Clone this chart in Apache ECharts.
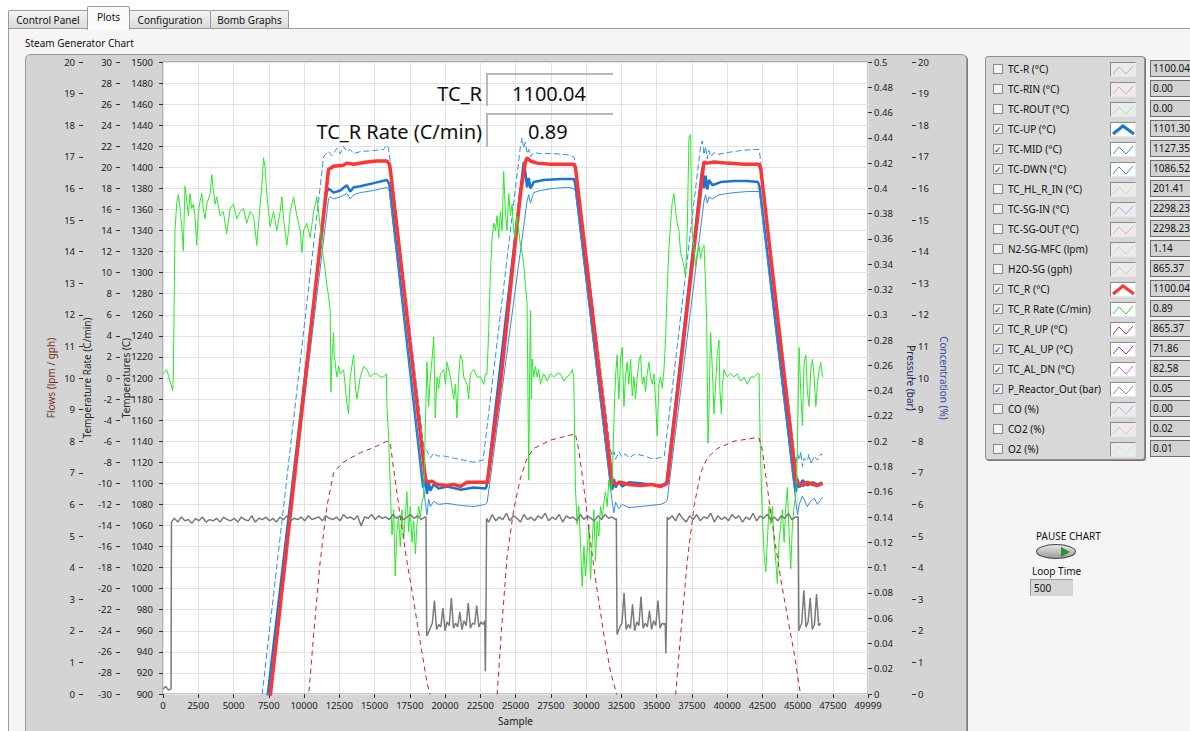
<!DOCTYPE html>
<html><head><meta charset="utf-8">
<script src="https://cdn.jsdelivr.net/npm/echarts@6/dist/echarts.min.js"></script>
<style>
html,body{margin:0;padding:0;width:1190px;height:731px;overflow:hidden;background:#ffffff;font-family:"Noto Sans","Open Sans",sans-serif;color:#111;}
.tab{position:absolute;top:10px;height:19px;border:1px solid #9c9c9c;border-bottom:none;background:linear-gradient(#f4f4f4,#d9d9d9);font-size:10px;line-height:18px;text-align:center;box-sizing:border-box;border-radius:2px 2px 0 0;}
.tab.sel{top:6px;height:24px;background:#fafafa;z-index:3;line-height:20px;}
#page{position:absolute;left:8px;top:28px;width:1182px;height:703px;background:#f5f5f5;border-top:1px solid #9c9c9c;border-left:1px solid #9c9c9c;box-sizing:border-box;}
#frame{position:absolute;left:25px;top:54px;width:942px;height:700px;background:#d4d4d4;border:1px solid #9a9a9a;border-radius:5px;box-sizing:border-box;box-shadow:1px 1px 0 #7a7a7a;}
#chart{position:absolute;left:0;top:0;width:1190px;height:731px;z-index:2;}
#title{position:absolute;left:25px;top:36px;font-size:10px;}
.ovl{position:absolute;z-index:4;font-size:20px;color:#111;white-space:nowrap;}
.ovbox{position:absolute;z-index:4;border-top:2px solid #b8b8b8;border-left:2px solid #b8b8b8;box-sizing:border-box;}
#legend{position:absolute;left:985px;top:56px;width:160px;height:404px;background:#d8d8d8;border:1px solid #8e8e8e;border-radius:3px;box-sizing:border-box;box-shadow:1px 1px 0 #777;z-index:4;}
.row{position:absolute;left:0;height:16px;width:160px;}
.cb{position:absolute;left:7px;top:3px;width:10px;height:10px;background:#f3f3f3;border:1px solid #8a8a8a;box-sizing:border-box;font-size:9px;line-height:9px;text-align:center;color:#24318a;}
.lbl{position:absolute;left:22px;top:0;font-size:10px;line-height:16px;white-space:nowrap;}
.ico{position:absolute;left:124px;top:1px;width:26px;height:15px;border:1px solid #8a8a8a;border-right-color:#e8e8e8;border-bottom-color:#e8e8e8;box-sizing:border-box;background:#ebebeb;}
.val{position:absolute;left:1150px;width:46px;height:17px;background:#d2d2d2;border:1px solid #6d6d6d;border-right:none;box-sizing:border-box;font-size:10px;line-height:15px;padding-left:2px;z-index:4;overflow:hidden;white-space:nowrap;}
</style></head>
<body>
<div class="tab" style="left:8px;width:80px;">Control Panel</div>
<div class="tab sel" style="left:87px;width:43px;">Plots</div>
<div class="tab" style="left:129px;width:82px;">Configuration</div>
<div class="tab" style="left:210px;width:79px;">Bomb Graphs</div>
<div id="page"></div>
<div id="title">Steam Generator Chart</div>
<div id="frame"></div>
<div id="chart"></div>
<div class="ovbox" style="left:486px;top:73px;width:127px;height:33px;"></div>
<div class="ovbox" style="left:486px;top:113px;width:127px;height:34px;"></div>
<div class="ovl" style="right:708px;top:80px;">TC_R</div>
<div class="ovl" style="left:512px;top:80px;">1100.04</div>
<div class="ovl" style="right:708px;top:118px;">TC_R Rate (C/min)</div>
<div class="ovl" style="left:528px;top:118px;">0.89</div>
<div id="legend"></div>
<div id="vals"></div>
<div style="position:absolute;left:1036px;top:529px;font-size:10px;z-index:4;">PAUSE CHART</div>
<div style="position:absolute;left:1036px;top:544px;width:40px;height:15px;border-radius:50%;background:linear-gradient(#e8e8e8,#9a9a9a);border:1px solid #444;box-sizing:border-box;z-index:4;">
  <div style="position:absolute;left:24px;top:2px;width:0;height:0;border-top:5px solid transparent;border-bottom:5px solid transparent;border-left:9px solid #2f8f2f;"></div>
</div>
<div style="position:absolute;left:1032px;top:564px;font-size:10px;z-index:4;">Loop Time</div>
<div style="position:absolute;left:1030px;top:579px;width:43px;height:17px;background:#d6d6d6;border-left:1px solid #999;border-top:1px solid #999;box-sizing:border-box;font-size:10px;line-height:16px;padding-left:3px;z-index:4;">500</div>
<script>
// ---------- legend panel data ----------
const legendNames = ['TC-R (°C)','TC-RIN (°C)','TC-ROUT (°C)','TC-UP (°C)','TC-MID (°C)','TC-DWN (°C)','TC_HL_R_IN (°C)','TC-SG-IN (°C)','TC-SG-OUT (°C)','N2-SG-MFC (lpm)','H2O-SG (gph)','TC_R (°C)','TC_R Rate (C/min)','TC_R_UP (°C)','TC_AL_UP (°C)','TC_AL_DN (°C)','P_Reactor_Out (bar)','CO (%)','CO2 (%)','O2 (%)'];
const legendChecked = [0,0,0,1,1,1,0,0,0,0,0,1,1,1,1,1,1,0,0,0];
const legendValues = ['1100.04','0.00','0.00','1101.30','1127.35','1086.52','201.41','2298.23','2298.23','1.14','865.37','1100.04','0.89','865.37','71.86','82.58','0.05','0.00','0.02','0.01'];
const legendColors = ['#9fb6cf','#efa5ad','#a6e3a6','#1a74d4','#2f8fe8','#2f8fe8','#efcb98','#b7abe8','#efa6c9','#ace6df','#c9c9c9','#ff3434','#28e028','#cc2a2a','#a020f0','#cf5ff0','#8a8a8a','#b6b6f0','#f0b3d2','#b3eeee'];
const legendThick = [0,0,0,1,0,0,0,0,0,0,0,1,0,0,0,0,0,0,0,0];

// ---------- chart series data: [sample, value] ----------
const tcR = [[7000,825],[7600,897],[11740,1398],[12100,1401],[12800,1402],[13040,1404],[13520,1403],[14460,1405],[15170,1406],[15880,1406],[16050,1403],[16120,1398],[18600,1106],[18720,1101],[19080,1102],[19430,1099],[20140,1098],[20620,1099],[21090,1097],[21560,1101],[22270,1101],[22870,1101],[23000,1100],[23930,1194],[25350,1375],[25700,1405],[25820,1409],[26060,1406],[26530,1404],[27480,1403],[28420,1403],[29130,1403],[29250,1400],[31860,1101],[32090,1099],[32450,1101],[33040,1099],[33870,1098],[34580,1099],[35290,1097],[35640,1099],[35760,1100],[38360,1405],[38600,1404],[39080,1405],[40020,1404],[41200,1403],[42270,1403],[42400,1398],[44880,1105],[45000,1100],[45350,1098],[45700,1101],[46060,1099],[46420,1098],[46770,1100]];

const tcUp = [[6900,840],[7410,897],[11600,1376],[11740,1380],[12100,1376],[12570,1378],[13040,1383],[13280,1377],[13520,1381],[13990,1382],[14940,1385],[15880,1388],[16050,1384],[18450,1096],[18600,1105],[18720,1090],[18840,1102],[18960,1093],[19200,1099],[19550,1095],[20140,1097],[21090,1094],[22040,1096],[22870,1095],[22950,1097],[25580,1405],[25700,1395],[25820,1381],[25940,1390],[26060,1380],[26290,1386],[27000,1388],[28200,1389],[29130,1389],[29230,1385],[31740,1102],[31860,1094],[31980,1104],[32100,1096],[32330,1102],[32570,1097],[33040,1101],[33870,1100],[34580,1099],[35290,1098],[35640,1100],[35720,1102],[38250,1400],[38370,1380],[38480,1392],[38600,1379],[38720,1388],[38960,1383],[39550,1386],[40500,1387],[41440,1387],[42200,1386],[42300,1382],[44760,1102],[44880,1092],[45000,1104],[45120,1096],[45350,1103],[45700,1098],[46060,1101],[46420,1099],[46770,1101]];

const tcMid = [[6500,840],[7010,897],[11390,1410],[11500,1412],[11740,1415],[11980,1411],[12330,1418],[12570,1413],[12800,1420],[13040,1415],[13280,1417],[13520,1413],[14000,1415],[14940,1416],[15650,1417],[15880,1421],[16000,1418],[18500,1134],[18720,1131],[18960,1124],[19200,1129],[19430,1126],[19900,1126],[20600,1124],[21300,1122],[22000,1120],[22700,1122],[25350,1420],[25470,1428],[25580,1418],[25700,1424],[25820,1413],[25940,1417],[26060,1410],[26290,1414],[26770,1413],[27700,1413],[28660,1412],[29130,1410],[29250,1405],[31740,1131],[31860,1126],[31980,1130],[32100,1123],[32330,1130],[32560,1125],[32800,1128],[33040,1124],[33500,1128],[34100,1126],[34800,1123],[35400,1125],[35560,1126],[38130,1421],[38250,1425],[38370,1412],[38480,1420],[38600,1408],[38720,1416],[38840,1410],[39080,1414],[39300,1412],[40000,1414],[41000,1416],[41900,1417],[42270,1417],[42350,1410],[44760,1131],[44880,1118],[45000,1128],[45120,1122],[45230,1130],[45350,1116],[45470,1124],[45700,1121],[45820,1128],[45940,1118],[46180,1126],[46420,1122],[46660,1128],[46770,1127]];

const tcDwn = [[7000,845],[7480,897],[11740,1370],[11860,1372],[12100,1370],[12570,1372],[13040,1375],[13280,1370],[13520,1374],[14000,1376],[14940,1378],[15880,1381],[16050,1378],[18600,1082],[18720,1070],[18840,1085],[18960,1078],[19200,1083],[19550,1080],[20140,1081],[21090,1079],[22040,1078],[22870,1080],[22990,1082],[25820,1368],[25940,1374],[26060,1366],[26290,1376],[26770,1378],[27700,1380],[28660,1381],[29130,1380],[29250,1377],[31860,1082],[31980,1072],[32100,1082],[32330,1076],[32560,1080],[33040,1077],[33870,1078],[34580,1079],[35290,1080],[35640,1082],[35760,1084],[38370,1368],[38480,1374],[38600,1366],[38720,1372],[38960,1370],[39430,1374],[40500,1376],[41440,1377],[42270,1377],[42350,1372],[44880,1082],[45000,1070],[45120,1080],[45350,1088],[45700,1078],[45940,1083],[46180,1086],[46420,1080],[46770,1087]];

const tcRUp = [[9900,860],[10320,897],[10680,956],[11150,1026],[11620,1078],[12100,1110],[12690,1119],[13040,1122],[13990,1129],[14940,1134],[15880,1140],[16120,1138],[16360,1113],[16830,1068],[17300,1026],[17780,988],[18250,949],[18720,911],[18960,898],[19400,868],[23300,866],[23700,900],[24000,960],[24400,1030],[24870,1075],[25350,1105],[25820,1124],[26290,1133],[27480,1141],[28660,1145],[29250,1147],[29490,1131],[29850,1096],[30320,1044],[30790,998],[31270,956],[31740,921],[32210,898],[32600,868],[35900,866],[36350,898],[36710,956],[37180,1026],[37660,1078],[38130,1110],[38600,1124],[39310,1133],[40500,1140],[41920,1143],[42270,1143],[42510,1131],[42860,1096],[43340,1050],[43810,1009],[44280,974],[44760,939],[45230,898],[45700,866],[46770,865]];

const tcRRate = [[20,0.4],[260,0.8],[500,-0.3],[690,-1.2],[730,0.1],[850,14.0],[970,16.5],[1090,17.4],[1210,16.1],[1330,14.4],[1440,12.1],[1560,18.2],[1680,16.8],[1800,15.4],[1920,17.5],[2040,16.1],[2150,16.5],[2270,15.4],[2390,12.6],[2510,15.8],[2630,16.8],[2750,17.5],[2860,16.1],[2980,15.1],[3100,16.5],[3340,17.5],[3460,19.3],[3570,17.9],[3690,16.5],[3810,17.2],[4050,15.4],[4280,15.8],[4520,13.7],[4760,16.1],[5000,16.5],[5230,15.1],[5470,15.8],[5700,16.1],[5940,14.7],[6180,15.8],[6420,15.4],[6650,12.6],[6890,16.5],[7010,18.2],[7130,20.9],[7240,20.0],[7360,17.5],[7480,15.8],[7600,14.4],[7840,15.8],[8070,14.0],[8310,15.8],[8430,17.2],[8550,15.1],[8780,12.6],[8900,14.0],[9020,15.8],[9260,17.2],[9490,15.4],[9730,14.0],[9850,11.9],[9970,14.0],[10200,14.7],[10440,13.3],[10680,15.8],[10910,17.2],[11030,15.8],[11150,14.4],[11270,12.6],[11390,11.3],[11500,10.2],[11620,8.8],[11740,7.8],[11860,6.4],[11910,-1.3],[11980,1.8],[12100,4.3],[12140,2.2],[12330,0.1],[12450,1.1],[12570,0.4],[12810,0.8],[13040,-2.4],[13160,-3.4],[13280,0.1],[13520,2.2],[13630,-0.6],[13750,-2.0],[13870,-1.0],[13990,0.1],[14230,1.1],[14460,0.8],[14700,0.1],[14940,0.4],[15170,0.4],[15410,0.1],[15650,0.1],[15840,0.4],[15880,-2.7],[16000,-5.5],[16120,-10.4],[16240,-14.9],[16360,-12.5],[16470,-18.8],[16590,-14.6],[16710,-13.2],[16830,-16.0],[16950,-12.5],[17070,-15.3],[17300,-10.8],[17420,-14.6],[17540,-12.2],[17660,-15.6],[17780,-13.6],[17900,-16.7],[18010,-13.9],[18130,-12.2],[18250,-13.2],[18370,-11.8],[18490,-11.1],[18600,-4.8],[18720,1.5],[18840,-2.7],[18960,0.1],[19080,1.8],[19200,3.9],[19310,-3.8],[19430,0.1],[19550,-1.0],[19670,0.4],[19910,0.8],[20030,-0.6],[20140,1.5],[20380,0.1],[20620,-2.0],[20740,-0.6],[20850,-3.8],[20970,0.1],[21090,2.2],[21210,1.8],[21330,0.1],[21560,-0.6],[21680,-2.0],[21800,0.4],[22040,0.8],[22270,0.1],[22510,0.1],[22750,-0.6],[22870,0.4],[22980,0.4],[23100,4.6],[23220,9.9],[23340,13.3],[23460,14.7],[23580,14.0],[23690,15.4],[23810,13.3],[23930,15.8],[24050,14.0],[24160,19.6],[24280,15.8],[24400,14.0],[24520,17.5],[24640,15.4],[24760,16.5],[24870,14.0],[24990,13.3],[25110,15.4],[25230,14.0],[25350,12.6],[25470,11.9],[25580,10.9],[25700,8.8],[25820,7.1],[25870,0.1],[25940,-9.7],[26010,1.8],[26060,6.4],[26130,-2.0],[26180,1.8],[26290,0.1],[26410,1.1],[26530,0.1],[26650,0.8],[26770,-0.6],[27000,0.4],[27240,-0.3],[27480,0.4],[27710,0.1],[27950,0.4],[28190,0.4],[28420,-0.3],[28660,0.1],[28900,0.4],[29020,0.8],[29130,0.1],[29180,-4.1],[29250,-10.4],[29370,-13.9],[29490,-12.2],[29610,-15.6],[29730,-19.8],[29850,-16.0],[29960,-18.8],[30080,-16.7],[30200,-13.9],[30320,-19.1],[30440,-15.6],[30560,-12.5],[30670,-17.4],[30790,-13.6],[30910,-15.0],[31030,-12.2],[31150,-13.2],[31270,-11.8],[31380,-10.8],[31500,-12.2],[31620,-9.7],[31740,-10.8],[31860,-9.7],[31980,-4.1],[32090,0.1],[32210,2.2],[32330,-2.0],[32450,1.8],[32570,2.9],[32690,-2.7],[32800,0.1],[32920,1.5],[33040,-0.6],[33160,1.8],[33280,-1.7],[33400,0.1],[33510,-2.0],[33630,0.1],[33750,1.5],[33870,2.2],[33990,-0.6],[34110,0.1],[34220,-1.3],[34340,0.4],[34460,1.5],[34580,0.1],[34700,-0.6],[34820,0.4],[34930,-2.0],[35050,-5.5],[35170,-0.6],[35290,0.1],[35410,-1.0],[35530,0.8],[35640,3.6],[35760,8.5],[35880,12.3],[36000,14.7],[36120,16.8],[36240,17.5],[36350,15.8],[36470,14.7],[36590,14.0],[36710,11.9],[36830,11.3],[36950,10.6],[37060,9.5],[37180,14.0],[37300,22.8],[37420,23.1],[37470,17.5],[37540,14.0],[37660,12.3],[37770,10.6],[37890,11.9],[38010,12.6],[38130,11.3],[38250,12.3],[38370,12.6],[38480,8.8],[38560,5.3],[38600,0.1],[38650,-6.2],[38720,-3.4],[38790,1.8],[38840,4.3],[38960,0.8],[39080,-3.4],[39190,-0.6],[39310,2.2],[39430,3.6],[39500,-1.3],[39600,-3.4],[39670,-0.6],[39790,0.8],[39900,0.4],[40020,0.1],[40260,0.4],[40500,0.1],[40730,0.4],[40970,-0.3],[41210,0.1],[41440,-0.6],[41680,0.1],[41920,0.1],[42150,0.4],[42270,0.4],[42340,-5.2],[42440,-10.4],[42510,-13.2],[42630,-16.7],[42750,-18.4],[42860,-15.6],[42980,-12.2],[43100,-13.9],[43220,-12.2],[43340,-15.6],[43460,-17.4],[43570,-19.5],[43690,-15.6],[43810,-13.9],[43930,-12.5],[44050,-15.6],[44170,-12.2],[44280,-10.4],[44400,-14.6],[44520,-18.1],[44640,-13.9],[44760,-12.2],[44880,-11.1],[44990,-6.9],[45110,2.9],[45230,-1.3],[45350,-4.5],[45470,1.5],[45590,2.2],[45700,-1.3],[45820,-2.7],[45940,0.8],[46060,1.8],[46180,0.1],[46300,-2.7],[46410,-0.6],[46530,0.8],[46650,1.5],[46770,0.1]];

// P_Reactor_Out (bar): step changes, plus read noisy segments (values read at regular sample spacing)
const pressureSteps = [[0,0.004],[200,0.006],[400,0.003],[570,0.004],[600,0.136],[18650,0.140],[18700,0.046],[22820,0.058],[22860,0.018],[22900,0.056],[22950,0.139],[32150,0.139],[32200,0.047],[35620,0.056],[35660,0.032],[35700,0.055],[35760,0.140],[45050,0.140],[45100,0.050]];
const pressureSegStart = [800, 18800, 23100, 32250, 35850, 45150];
const pressureSegSpacing = [250, 150, 250, 150, 250, 150];
const pressureHigh1 = [0.139,0.136,0.140,0.137,0.138,0.135,0.139,0.137,0.140,0.136,0.138,0.137,0.139,0.136,0.140,0.138,0.137,0.139,0.136,0.140,0.138,0.137,0.141,0.136,0.139,0.138,0.140,0.137,0.139,0.136,0.140,0.138,0.141,0.137,0.139,0.138,0.140,0.137,0.141,0.138,0.139,0.140,0.137,0.141,0.139,0.138,0.140,0.137,0.142,0.139,0.140,0.138,0.141,0.133,0.140,0.139,0.142,0.138,0.141,0.139,0.140,0.138,0.142,0.139,0.141,0.138,0.140,0.142,0.139,0.141,0.138,0.140];
const pressureLow1 = [0.048,0.052,0.056,0.074,0.051,0.055,0.053,0.068,0.050,0.057,0.054,0.076,0.052,0.056,0.053,0.065,0.051,0.058,0.054,0.072,0.052,0.056,0.055,0.070,0.053,0.057,0.055];
const pressureHigh2 = [0.136,0.142,0.137,0.140,0.138,0.143,0.137,0.141,0.139,0.136,0.142,0.138,0.140,0.137,0.141,0.139,0.143,0.137,0.140,0.138,0.142,0.136,0.141,0.139,0.140,0.137,0.142,0.138,0.141,0.139,0.137,0.141,0.138,0.142,0.139,0.140,0.138];
const pressureLow2 = [0.047,0.053,0.056,0.080,0.051,0.055,0.052,0.071,0.050,0.057,0.054,0.077,0.052,0.056,0.053,0.066,0.051,0.058,0.054,0.074,0.052,0.056,0.055];
const pressureHigh3 = [0.138,0.141,0.137,0.143,0.139,0.136,0.141,0.138,0.142,0.137,0.140,0.139,0.143,0.136,0.141,0.138,0.140,0.137,0.142,0.139,0.141,0.136,0.140,0.138,0.143,0.137,0.141,0.139,0.142,0.138,0.140,0.137,0.141,0.139,0.143,0.138,0.140];
const pressureLow3 = [0.052,0.056,0.082,0.053,0.057,0.076,0.051,0.055,0.079,0.054,0.056];

// ---------- build legend panel ----------
const legendEl = document.getElementById('legend');
const valsEl = document.getElementById('vals');
legendNames.forEach((name, i) => {
  const row = document.createElement('div');
  row.className = 'row';
  row.style.top = (4 + 20 * i) + 'px';
  const on = legendChecked[i] === 1;
  const w = legendThick[i] ? 3 : 1;
  const pts = legendThick[i] ? '2,11 12,3 23,11' : '2,11 8,4 15,11 22,3';
  row.innerHTML = '<div class="cb">' + (on ? '✓' : '') + '</div>' +
    '<div class="lbl">' + name + '</div>' +
    '<div class="ico" style="background:' + (on ? '#ffffff' : '#ebebeb') + '"><svg width="24" height="13" style="position:absolute;left:0;top:0"><polyline points="' + pts + '" fill="none" stroke="' + legendColors[i] + '" stroke-width="' + w + '"/></svg></div>';
  legendEl.appendChild(row);
  const v = document.createElement('div');
  v.className = 'val';
  v.style.top = (60 + 20 * i) + 'px';
  v.textContent = legendValues[i];
  valsEl.appendChild(v);
});

// ---------- build pressure series ----------
const pressureSegs = [pressureHigh1, pressureLow1, pressureHigh2, pressureLow2, pressureHigh3, pressureLow3];
let pReactorOut = pressureSteps.slice();
pressureSegs.forEach((seg, k) => {
  seg.forEach((v, j) => pReactorOut.push([pressureSegStart[k] + j * pressureSegSpacing[k], v]));
});
pReactorOut.sort((a, b) => a[0] - b[0]);

// ---------- chart ----------
const chart = echarts.init(document.getElementById('chart'), null, {renderer: 'svg', width: 1190, height: 731});
const FONT = 'Noto Sans';
const plain = v => String(v);
const labelStyle = {fontFamily: FONT, fontSize: 9.5, color: '#1a1a1a', formatter: plain};
function yAxisDef(extra) {
  return Object.assign({
    type: 'value',
    nameLocation: 'middle',
    nameMoveOverlap: false,
    axisLine: {show: false, onZero: false},
    axisTick: {show: true, length: 4, lineStyle: {color: '#303030'}},
    splitLine: {show: false},
    nameTextStyle: {fontFamily: FONT, fontSize: 10, color: '#2a2a2a'}
  }, extra);
}
const option = {
  backgroundColor: 'transparent',
  animation: false,
  grid: {left: 163, top: 62, width: 705, height: 636, show: true, backgroundColor: '#ffffff', borderColor: '#8e8e8e', borderWidth: 1},
  xAxis: {
    type: 'value', min: 0, max: 49999, interval: 2500,
    name: 'Sample', nameLocation: 'middle', nameGap: 22, nameMoveOverlap: false,
    nameTextStyle: {fontFamily: FONT, fontSize: 10, color: '#1a1a1a'},
    axisLine: {show: false, onZero: false},
    axisTick: {show: true, length: 4, lineStyle: {color: '#303030'}},
    axisLabel: Object.assign({margin: 6}, labelStyle),
    splitLine: {show: true, lineStyle: {color: '#e2e2e2', width: 1}}
  },
  yAxis: [
    yAxisDef({position: 'left', offset: 0, min: 900, max: 1500, interval: 20, name: 'Temperatures (C)', nameGap: 32, nameRotate: 90,
      axisLabel: Object.assign({margin: 10}, labelStyle),
      splitLine: {show: true, lineStyle: {color: '#e2e2e2', width: 1}}}),
    yAxisDef({position: 'left', offset: 43, min: -30, max: 30, interval: 2, name: 'Temperature Rate (C/min)', nameGap: 28, nameRotate: 90,
      axisLabel: Object.assign({margin: 8}, labelStyle)}),
    yAxisDef({position: 'left', offset: 80, min: 0, max: 20, interval: 1, name: 'Flows (lpm / gph)', nameGap: 27, nameRotate: 90,
      axisLabel: Object.assign({margin: 8}, labelStyle),
      nameTextStyle: {fontFamily: FONT, fontSize: 10, color: '#7a2e22'}}),
    yAxisDef({position: 'right', offset: 0, min: 0, max: 0.5, interval: 0.02, name: 'Pressure (bar)', nameGap: 38, nameRotate: -90,
      axisLabel: Object.assign({margin: 6}, labelStyle),
      nameTextStyle: {fontFamily: FONT, fontSize: 10, color: '#1e2a66'}}),
    yAxisDef({position: 'right', offset: 44, min: 0, max: 20, interval: 1, name: 'Concentration (%)', nameGap: 27, nameRotate: -90,
      axisLabel: Object.assign({margin: 6}, labelStyle),
      nameTextStyle: {fontFamily: FONT, fontSize: 10, color: '#3a4fa8'}})
  ],
  series: [
    {name: 'TC-UP', type: 'line', yAxisIndex: 0, data: tcUp, showSymbol: false, silent: true, lineStyle: {color: '#1a74d4', width: 2.5}, itemStyle: {color: '#1a74d4'}},
    {name: 'TC-MID', type: 'line', yAxisIndex: 0, data: tcMid, showSymbol: false, silent: true, lineStyle: {color: '#2f8fe8', width: 1, type: [6, 3]}, itemStyle: {color: '#2f8fe8'}},
    {name: 'TC-DWN', type: 'line', yAxisIndex: 0, data: tcDwn, showSymbol: false, silent: true, lineStyle: {color: '#2f8fe8', width: 1}, itemStyle: {color: '#2f8fe8'}},
    {name: 'TC_R', type: 'line', yAxisIndex: 0, data: tcR, showSymbol: false, silent: true, lineStyle: {color: '#ff3434', width: 3.5}, itemStyle: {color: '#ff3434'}},
    {name: 'TC_R Rate', type: 'line', yAxisIndex: 1, data: tcRRate, showSymbol: false, silent: true, lineStyle: {color: '#26ea26', width: 1}, itemStyle: {color: '#26ea26'}},
    {name: 'TC_R_UP', type: 'line', yAxisIndex: 0, data: tcRUp, showSymbol: false, silent: true, lineStyle: {color: '#c82222', width: 1, type: [5, 4]}, itemStyle: {color: '#c82222'}},
    {name: 'P_Reactor_Out', type: 'line', yAxisIndex: 3, data: pReactorOut, showSymbol: false, silent: true, lineStyle: {color: '#7a7a7a', width: 1.5}, itemStyle: {color: '#7a7a7a'}}
  ]
};
chart.setOption(option);
</script>
</body></html>
